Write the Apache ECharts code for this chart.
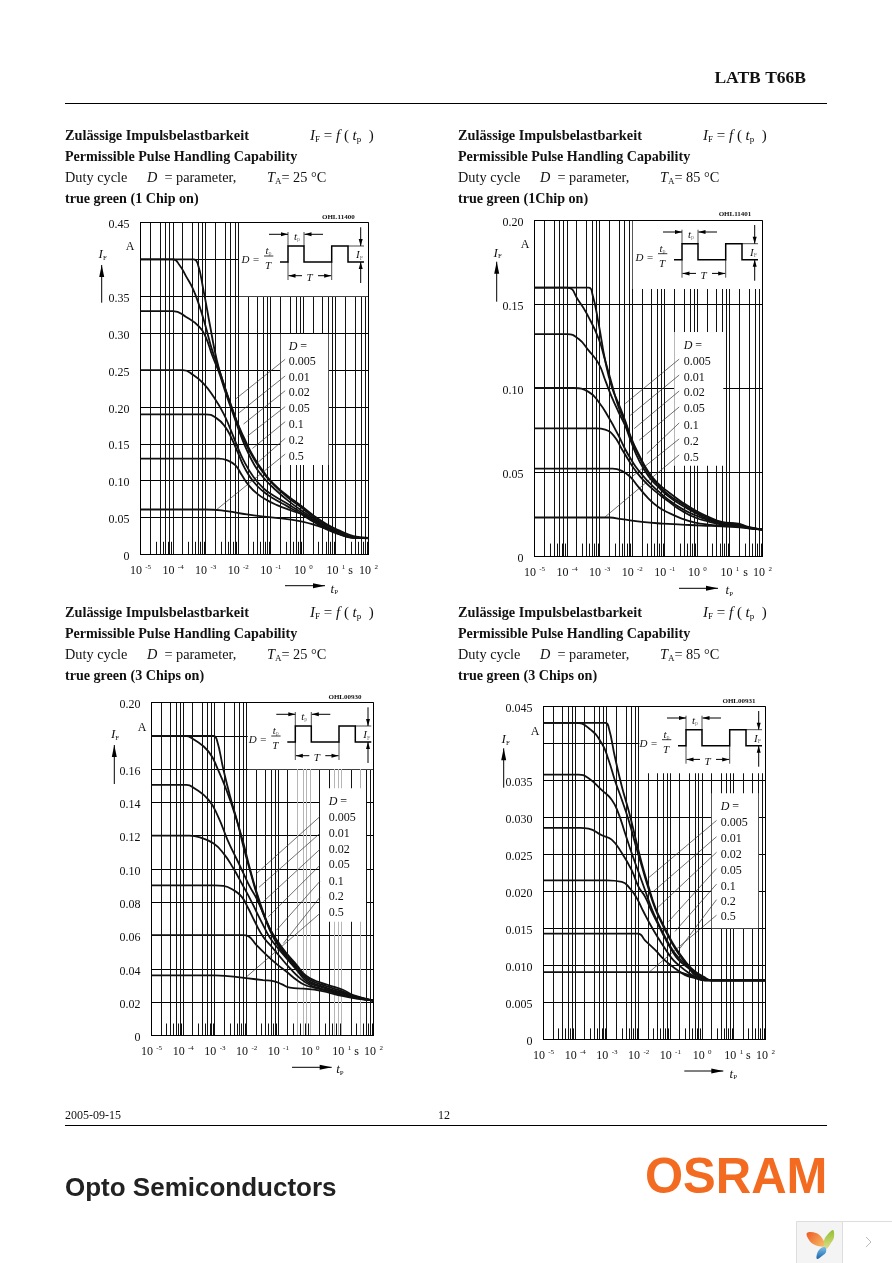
<!DOCTYPE html>
<html><head><meta charset="utf-8">
<style>html,body{margin:0;padding:0;background:#fff}#c{width:892px;height:1263px}</style>
<script src="https://cdn.jsdelivr.net/npm/echarts@6/dist/echarts.min.js"></script>
</head><body><div id="c"></div>
<script>
// Curve values: [log10(tp in s), IF in A]
const dutyLabels=['0.005','0.01','0.02','0.05','0.1','0.2','0.5'];
const longMant=[2,4,6,8,10], shortMant=[3,5,7,9];

const c1d005=[[-5,.4],[-3.37,.4],[-3.25,.395],[-3.07,.359],[-2.86,.309],[-2.66,.264],[-2.45,.232],[-2.25,.205],[-2.04,.18],[-1.84,.16],[-1.53,.1325],[-1.22,.112],[-.92,.096],[-.5,.08],[-.1,.067],[.31,.053],[.72,.041],[1.13,.032],[1.54,.025],[2,.0225]];
const c1d01=[[-5,.4],[-4,.4],[-3.8,.392],[-3.6,.377],[-3.4,.361],[-3.2,.338],[-3,.309],[-2.8,.277],[-2.6,.252],[-2.4,.225],[-2.2,.2],[-2,.175],[-1.8,.153],[-1.5,.128],[-1.2,.109],[-.9,.094],[-.5,.078],[-.1,.065],[.3,.051],[.7,.04],[1.1,.031],[1.5,.024],[2,.0225]];
const c1d02=[[-5,.33],[-4,.33],[-3.6,.322],[-3.2,.309],[-3,.295],[-2.8,.27],[-2.6,.248],[-2.4,.221],[-2.2,.196],[-2,.171],[-1.8,.148],[-1.5,.121],[-1.2,.103],[-.9,.0895],[-.5,.074],[-.1,.061],[.3,.049],[.7,.038],[1.1,.029],[1.5,.023],[2,.0225]];
const c1d05=[[-5,.25],[-3.7,.25],[-3.37,.243],[-3.07,.232],[-2.76,.214],[-2.45,.191],[-2.25,.171],[-2.04,.148],[-1.84,.128],[-1.53,.105],[-1.22,.0895],[-.92,.08],[-.5,.069],[-.1,.058],[.31,.0466],[.72,.0366],[1.13,.0285],[1.54,.023],[2,.0225]];
const c1d1=[[-5,.19],[-3,.19],[-2.66,.1845],[-2.4,.173],[-2.2,.157],[-2,.137],[-1.8,.117],[-1.53,.0986],[-1.22,.085],[-.92,.076],[-.5,.0656],[-.1,.0556],[.31,.0443],[.72,.034],[1.13,.027],[1.54,.0226],[2,.0225]];
const c1d2=[[-5,.13],[-2.6,.13],[-2.35,.128],[-2.09,.121],[-1.89,.1076],[-1.68,.094],[-1.43,.0828],[-1.12,.0737],[-.81,.067],[-.4,.06],[0,.054],[.41,.0434],[.82,.034],[1.23,.026],[1.64,.0226],[2,.0225]];
const c1d5=[[-5,.061],[-3,.061],[-2.35,.0588],[-1.73,.0543],[-1.12,.051],[-.5,.048],[0,.0443],[.41,.039],[.82,.033],[1.23,.026],[1.64,.023],[2,.022]];

const c2d005=[[-5,.16],[-3.34,.16],[-3.22,.156],[-3.03,.1385],[-2.83,.1167],[-2.63,.101],[-2.42,.091],[-2.22,.081],[-2.02,.07],[-1.81,.0612],[-1.5,.0503],[-1.2,.0434],[-.9,.0385],[-.48,.0325],[-.07,.0275],[.34,.0236],[.75,.0206],[1.26,.0196],[1.57,.0176],[2,.016]];
const c2d01=[[-5,.16],[-4,.16],[-3.65,.1524],[-3.34,.1425],[-3.03,.1296],[-2.83,.1167],[-2.63,.103],[-2.42,.089],[-2.22,.08],[-2.02,.069],[-1.81,.0603],[-1.5,.0494],[-1.2,.0424],[-.9,.037],[-.48,.0315],[-.07,.0266],[.34,.023],[.75,.02],[1.26,.0192],[1.57,.0174],[2,.016]];
const c2d02=[[-5,.1324],[-4,.1324],[-3.65,.1296],[-3.34,.1227],[-3.03,.1148],[-2.83,.105],[-2.63,.095],[-2.42,.086],[-2.22,.078],[-2.02,.0676],[-1.81,.058],[-1.5,.0478],[-1.2,.0414],[-.9,.036],[-.48,.0305],[-.07,.026],[.34,.0222],[.75,.02],[1.26,.019],[1.57,.0172],[2,.016]];
const c2d05=[[-5,.1003],[-3.8,.1003],[-3.34,.098],[-3.03,.092],[-2.73,.083],[-2.42,.072],[-2.22,.064],[-2.02,.0573],[-1.81,.0513],[-1.5,.0444],[-1.2,.0389],[-.9,.034],[-.48,.0285],[-.07,.0246],[.34,.0216],[.75,.0196],[1.26,.0186],[1.57,.017],[2,.016]];
const c2d1=[[-5,.0763],[-3.1,.0763],[-2.83,.0755],[-2.57,.072],[-2.32,.064],[-2.11,.0573],[-1.91,.0513],[-1.7,.0464],[-1.45,.0414],[-1.14,.0365],[-.83,.032],[-.48,.0272],[-.07,.0232],[.34,.0208],[.75,.019],[1.26,.0182],[1.57,.0168],[2,.016]];
const c2d2=[[-5,.0523],[-2.6,.0523],[-2.32,.051],[-2.06,.0474],[-1.81,.0414],[-1.5,.0345],[-1.2,.0295],[-.9,.0262],[-.48,.0226],[-.07,.0202],[.34,.019],[.75,.0184],[1.26,.0178],[2,.016]];
const c2d5=[[-5,.0232],[-2.7,.0232],[-2.32,.0222],[-1.7,.0206],[-1.08,.0196],[-.48,.019],[.13,.0184],[.75,.018],[1.36,.0172],[2,.016]];

const c3d005=[[-5,.18],[-3.05,.18],[-2.94,.1776],[-2.73,.1595],[-2.52,.1435],[-2.31,.1295],[-2.1,.1134],[-1.9,.0994],[-1.69,.0854],[-1.48,.0733],[-1.27,.0643],[-1.05,.0573],[-.74,.0493],[-.42,.0423],[-.21,.0373],[0,.0343],[.31,.0319],[.73,.0293],[1.05,.0273],[1.36,.0242],[2,.021]];
const c3d01=[[-5,.18],[-3.95,.18],[-3.65,.1776],[-3.2,.1705],[-2.9,.1595],[-2.6,.1455],[-2.3,.1285],[-2.1,.1154],[-1.9,.1004],[-1.69,.0864],[-1.48,.0743],[-1.27,.0643],[-1.05,.0563],[-.74,.0483],[-.42,.0413],[-.21,.0363],[0,.0333],[.31,.0309],[.73,.0283],[1.05,.0263],[1.36,.0238],[2,.021]];
const c3d02=[[-5,.1505],[-3.9,.1505],[-3.65,.1485],[-3.2,.1415],[-2.9,.1315],[-2.6,.1174],[-2.3,.1054],[-2.1,.0974],[-1.9,.0894],[-1.69,.0824],[-1.48,.0733],[-1.27,.0633],[-1.05,.0553],[-.74,.0473],[-.42,.0403],[-.21,.0353],[0,.0323],[.31,.0299],[.73,.0273],[1.05,.0257],[1.36,.0236],[2,.021]];
const c3d05=[[-5,.12],[-3.8,.12],[-3.47,.119],[-3.05,.1154],[-2.73,.1094],[-2.42,.1004],[-2.1,.0894],[-1.9,.0824],[-1.69,.0743],[-1.48,.0663],[-1.27,.0589],[-1.05,.0533],[-.74,.0463],[-.42,.0393],[-.21,.0343],[0,.0313],[.31,.0293],[.73,.0269],[1.05,.0253],[1.36,.0232],[2,.021]];
const c3d1=[[-5,.0902],[-3,.0902],[-2.73,.0898],[-2.42,.0874],[-2.16,.0834],[-1.95,.0764],[-1.74,.0683],[-1.48,.0593],[-1.21,.0533],[-.95,.0473],[-.63,.0403],[-.31,.0343],[0,.0303],[.31,.0283],[.73,.0263],[1.05,.0246],[1.36,.0228],[2,.021]];
const c3d2=[[-5,.0603],[-2.1,.0603],[-1.95,.0597],[-1.69,.0543],[-1.37,.0483],[-1.05,.0429],[-.74,.0383],[-.42,.0333],[-.16,.0303],[.1,.0289],[.52,.0269],[1.05,.0242],[1.47,.0226],[2,.021]];
const c3d5=[[-5,.0361],[-3,.0361],[-2.6,.0357],[-1.95,.0343],[-1.48,.0333],[-1.16,.0327],[-.9,.0309],[-.63,.0287],[-.21,.0281],[.31,.0269],[1.05,.0236],[1.47,.0222],[2,.021]];

const c4d005=[[-5,.0428],[-3.05,.0428],[-2.94,.0421],[-2.75,.0382],[-2.53,.0342],[-2.32,.031],[-2.11,.0274],[-1.9,.0238],[-1.69,.0207],[-1.48,.0179],[-1.27,.0159],[-1.06,.0141],[-.85,.0125],[-.64,.0112],[-.42,.01],[-.22,.0092],[.04,.0085],[.3,.008],[2,.008]];
const c4d01=[[-5,.0428],[-4,.0428],[-3.58,.0421],[-3.16,.04],[-2.95,.0378],[-2.74,.0349],[-2.53,.0324],[-2.32,.0297],[-2.11,.0265],[-1.9,.0234],[-1.69,.0204],[-1.48,.0177],[-1.27,.0157],[-1.06,.0139],[-.85,.0123],[-.64,.011],[-.42,.0099],[-.22,.009],[.04,.0083],[.3,.008],[2,.008]];
const c4d02=[[-5,.0358],[-3.9,.0358],[-3.58,.0353],[-3.16,.0337],[-2.85,.0324],[-2.64,.0306],[-2.43,.0279],[-2.22,.0252],[-2.01,.0227],[-1.8,.0202],[-1.59,.0177],[-1.38,.0157],[-1.17,.0139],[-.96,.0123],[-.75,.0111],[-.42,.0098],[-.22,.0089],[.04,.0083],[.3,.008],[2,.008]];
const c4d05=[[-5,.0286],[-3.85,.0286],[-3.58,.0285],[-3.16,.0276],[-2.85,.027],[-2.53,.0252],[-2.22,.0229],[-2.01,.0207],[-1.8,.0193],[-1.59,.0173],[-1.38,.0155],[-1.17,.0137],[-.96,.0121],[-.75,.0108],[-.42,.0096],[-.22,.0087],[.04,.0082],[.3,.008],[2,.008]];
const c4d1=[[-5,.0215],[-3,.0215],[-2.53,.0213],[-2.27,.0204],[-2.06,.0191],[-1.85,.0173],[-1.59,.0152],[-1.38,.0137],[-1.17,.0123],[-.96,.011],[-.75,.0101],[-.42,.009],[-.17,.0084],[.09,.008],[2,.008]];
const c4d2=[[-5,.0143],[-2.02,.0143],[-1.8,.0134],[-1.48,.0121],[-1.17,.0107],[-.85,.0096],[-.53,.0087],[-.22,.0083],[.04,.008],[2,.008]];
const c4d5=[[-5,.0091],[-.8,.0091],[-.42,.0087],[-.17,.0083],[.09,.008],[2,.008]];

// Leader lines from the D labels to the curves
const leaderX1=-.558;
const leaderStart1=[.2646,.242,.222,.2004,.18,.1574,.1361];
const leaderEnd1=[[-2.093,.2103],[-1.97,.1922],[-1.837,.1768],[-1.714,.1606],[-1.561,.1438],[-1.428,.1235],[-2.656,.0611]];
const leaderX2=-.558;
const leaderStart2=[.1175,.108,.0985,.089,.0795,.07,.0605];
const leaderEnd2=[[-2.216,.091],[-2.062,.084],[-1.94,.0761],[-1.786,.0692],[-1.55,.0612],[-2.011,.0474],[-2.83,.0236]];
const leaderX3=.31;
const leaderStart3=[.1315,.1214,.1118,.1022,.0926,.083,.0733];
const leaderEnd3=[[-1.684,.0974],[-1.61,.089],[-1.474,.0804],[-1.317,.0713],[-1.055,.0633],[-.845,.0553],[-2,.0353]];
const leaderX4=.456;
const leaderStart4=[.0296,.0274,.0253,.0231,.021,.0189,.0168];
const leaderEnd4=[[-1.674,.0219],[-1.537,.02],[-1.38,.0179],[-1.065,.0159],[-.855,.0146],[-.7,.0123],[-1.642,.0092]];

const SERIF='"Liberation Serif","Times New Roman",serif';
const charts=[
 {x0:65,dy:0,temp:'25',title:'true green (1 Chip on)',code:'OHL11400',L:140.5,R:368.5,T:222.5,B:554.5,yMax:.45,yStep:.05,dec:2,hide:[.4],short:.0172,
  curves:[c1d005,c1d01,c1d02,c1d05,c1d1,c1d2,c1d5],lx:leaderX1,ls:leaderStart1,le:leaderEnd1,
  inset:[239,296.3],legBox:[280.7,334,328.3,465],legX:288.7,legY:[346.7,361.7,377.7,393.3,409.3,425,440.7,456.7],
  IF:[102.7,255],ya:[101.7,302.7,265],A:[130,246.7],tp:[285,325,585.7,334.3,589.3],s:[350.7,570.7],cd:[338.3,217],px:288,py:246},
 {x0:458,dy:0,temp:'85',title:'true green (1Chip on)',code:'OHL11401',L:534.5,R:762.5,T:220.5,B:556.5,yMax:.2,yStep:.05,dec:2,hide:[],short:.0077,
  curves:[c2d005,c2d01,c2d02,c2d05,c2d1,c2d2,c2d5],lx:leaderX2,ls:leaderStart2,le:leaderEnd2,
  inset:[632.7,289],legBox:[674.3,332,723.3,465.7],legX:683.7,legY:[345.5,361.7,377.7,393.3,409.3,425.5,441.5,457.5],
  IF:[497.7,253.3],ya:[496.7,301.7,261.7],A:[525,245],tp:[679,718,588.3,729.3,591],s:[745.7,572.7],cd:[735,214.3],px:682,py:243.7},
 {x0:65,dy:477,temp:'25',title:'true green (3 Chips on)',code:'OHL00930',L:151.5,R:373.5,T:702.5,B:1035.5,yMax:.2,yStep:.02,dec:2,hide:[.18],short:.0072,
  curves:[c3d005,c3d01,c3d02,c3d05,c3d1,c3d2,c3d5],lx:leaderX3,ls:leaderStart3,le:leaderEnd3,
  inset:[247.7,769.3],legBox:[320,788.3,366,921.7],legX:328.7,legY:[801.7,817.7,833.7,849.7,865.3,881.7,897.3,912.7],gray:[.4,.5,.6,.7,.8,.9,1,6,7,8,9,10,40],
  IF:[115,735],ya:[114.3,784,745],A:[142,727.7],tp:[292,331.7,1067.3,340,1070],s:[356.7,1051.7],cd:[345,697],px:295.3,py:726},
 {x0:458,dy:477,temp:'85',title:'true green (3 Chips on)',code:'OHL00931',L:543.5,R:765.5,T:706.5,B:1039.5,yMax:.045,yStep:.005,dec:3,hide:[.04],short:.0015,
  curves:[c4d005,c4d01,c4d02,c4d05,c4d1,c4d2,c4d5],lx:leaderX4,ls:leaderStart4,le:leaderEnd4,
  inset:[639.3,773.3],legBox:[711.7,793.3,758.3,928.3],legX:720.7,legY:[807,822.7,838.7,854.7,870.7,886.7,901.7,917.3],
  IF:[505.7,740],ya:[503.7,787.7,748.3],A:[535,732],tp:[684.3,723.3,1071,733.3,1074.3],s:[748.3,1055.7],cd:[739,701],px:686,py:729.7}
];

const grids=[],xAxes=[],yAxes=[],series=[],graphic=[];
const T=(x,y,text,o={})=>({type:'text',x,y,z:6,silent:true,style:Object.assign({text,fontFamily:SERIF,fontSize:12,fill:'#111',align:'left',verticalAlign:'middle'},o)});
const LN=(x1,y1,x2,y2,w=1,c='#000',z=6)=>({type:'line',z,silent:true,shape:{x1,y1,x2,y2},style:{stroke:c,lineWidth:w}});
const ARROW=(x1,y1,x2,y2,len=7,hw=2)=>{
  const d=Math.hypot(x2-x1,y2-y1),ux=(x2-x1)/d,uy=(y2-y1)/d;
  return [LN(x1,y1,x2,y2,1),{type:'polygon',z:6,silent:true,shape:{points:[[x2,y2],[x2-ux*len-uy*hw,y2-uy*len+ux*hw],[x2-ux*len+uy*hw,y2-uy*len-ux*hw]]},style:{fill:'#000'}}];
};
const subRich={i:{fontStyle:'italic',fontFamily:SERIF,fontSize:15,fill:'#111'},n:{fontFamily:SERIF,fontSize:15,fill:'#111'},s:{fontFamily:SERIF,fontSize:9,fill:'#111',padding:[7,0,0,0]},m:{fontFamily:SERIF,fontSize:14.3,fill:'#111'},mi:{fontStyle:'italic',fontFamily:SERIF,fontSize:14.3,fill:'#111'}};

charts.forEach((c,i)=>{
  grids.push({left:c.L,top:c.T,width:c.R-c.L,height:c.B-c.T,show:false});
  xAxes.push({gridIndex:i,type:'log',logBase:10,min:1e-5,max:100,splitNumber:7,axisTick:{show:false},splitLine:{show:false},minorTick:{show:false},
    axisLine:{show:true,onZero:false,lineStyle:{color:'#000',width:1}},
    axisLabel:{margin:9,hideOverlap:false,showMinLabel:true,showMaxLabel:true,formatter:v=>`{a|10} {b|${Math.round(Math.log10(v))}}`,
      rich:{a:{fontFamily:SERIF,fontSize:12,color:'#111'},b:{fontFamily:SERIF,fontSize:7,color:'#111',padding:[0,0,7,0]}}}});
  yAxes.push({gridIndex:i,type:'value',min:0,max:c.yMax,interval:c.yStep,axisTick:{show:false},
    axisLine:{show:true,onZero:false,lineStyle:{color:'#000',width:1}},
    splitLine:{show:true,lineStyle:{color:'#000',width:1}},
    axisLabel:{margin:11,color:'#111',fontFamily:SERIF,fontSize:12,verticalAlign:'top',lineHeight:5,
      formatter:v=>{ if(v===0)return '0'; if(c.hide.some(h=>Math.abs(h-v)<1e-6))return ''; return v.toFixed(c.dec);} }});
  // vertical grid lines and short ticks
  const vl=[];
  for(let e=-5;e<2;e++){
    longMant.forEach(m=>{const t=m*Math.pow(10,e);vl.push([t,c.yMax,(c.gray||[]).some(g=>Math.abs(g/t-1)<1e-6)?1:0]);});
    shortMant.forEach(m=>vl.push([m*Math.pow(10,e),c.short,0]));
  }
  series.push({type:'custom',xAxisIndex:i,yAxisIndex:i,z:0,silent:true,clip:true,animation:false,data:vl,encode:{x:0,y:1},
    renderItem:(p,api)=>{const a=api.coord([api.value(0),0]),b=api.coord([api.value(0),api.value(1)]),x=Math.floor(a[0])+.5;
      return {type:'line',shape:{x1:x,y1:a[1],x2:x,y2:b[1]},style:{stroke:api.value(2)?'#b5b5b5':'#111',lineWidth:1}};}});
  // curves
  c.curves.forEach((pts,k)=>series.push({type:'line',name:'D='+dutyLabels[k],xAxisIndex:i,yAxisIndex:i,z:3,symbol:'none',silent:true,animation:false,smooth:.5,
    lineStyle:{color:'#111',width:1.8},data:pts.map(p=>[Math.pow(10,p[0]),p[1]])}));
  // leaders
  c.le.forEach((e,k)=>series.push({type:'line',name:'leader'+dutyLabels[k],xAxisIndex:i,yAxisIndex:i,z:2,symbol:'none',silent:true,animation:false,
    lineStyle:{color:'#333',width:.7},data:[[Math.pow(10,c.lx),c.ls[k]],[Math.pow(10,e[0]),e[1]]]}));

  // white areas, frame
  graphic.push({type:'rect',z:1,silent:true,shape:{x:c.inset[0],y:c.T,width:c.R-c.inset[0],height:c.inset[1]-c.T},style:{fill:'#fff'}});
  graphic.push({type:'rect',z:1,silent:true,shape:{x:c.legBox[0],y:c.legBox[1],width:c.legBox[2]-c.legBox[0],height:c.legBox[3]-c.legBox[1]},style:{fill:'#fff'}});
  graphic.push({type:'rect',z:2,silent:true,shape:{x:c.L,y:c.T,width:c.R-c.L,height:c.B-c.T},style:{fill:null,stroke:'#000',lineWidth:1}});
  // header
  const y0=136+c.dy;
  graphic.push(T(c.x0,y0,'Zulässige Impulsbelastbarkeit',{fontWeight:'bold',fontSize:14.3}));
  graphic.push(T(c.x0,y0+21,'Permissible Pulse Handling Capability',{fontWeight:'bold',fontSize:14.1}));
  graphic.push(T(c.x0,y0+42,'Duty cycle',{fontSize:14.3}));
  graphic.push(T(c.x0,y0+63,c.title,{fontWeight:'bold',fontSize:14.1}));
  graphic.push(T(c.x0+245,y0,'{i|I}{s|F}{n| = }{i|f}{n| ( }{i|t}{s|p}{n|  )}',{rich:subRich}));
  graphic.push(T(c.x0+82,y0+42,'{mi|D}{m|  = parameter,}',{rich:subRich}));
  graphic.push(T(c.x0+202,y0+42,'{mi|T}{s|A}{m|= '+c.temp+' °C}',{rich:subRich}));
  graphic.push(T(c.cd[0],c.cd[1],c.code,{fontSize:7,fontWeight:'bold',align:'center'}));
  // axis annotations
  graphic.push(T(c.IF[0],c.IF[1],'{i|I}{s|F}',{rich:{i:{fontStyle:'italic',fontFamily:SERIF,fontSize:13,fill:'#111'},s:{fontFamily:SERIF,fontSize:7,fill:'#111',padding:[6,0,0,0]}},align:'center'}));
  graphic.push(...ARROW(c.ya[0],c.ya[1],c.ya[0],c.ya[2],12,2.5));
  graphic.push(T(c.A[0],c.A[1],'A',{align:'center'}));
  graphic.push(...ARROW(c.tp[0],c.tp[2],c.tp[1],c.tp[2],12,2.5));
  graphic.push(T(c.tp[3],c.tp[4],'{i|t}{s|P}',{rich:{i:{fontStyle:'italic',fontFamily:SERIF,fontSize:13,fill:'#111'},s:{fontFamily:SERIF,fontSize:7,fill:'#111',padding:[6,0,0,0]}},align:'center'}));
  graphic.push(T(c.s[0],c.s[1],'s',{align:'center'}));
  // legend labels
  graphic.push(T(c.legX,c.legY[0],'{i|D} {n|=}',{rich:{i:{fontStyle:'italic',fontFamily:SERIF,fontSize:12,fill:'#111'},n:{fontFamily:SERIF,fontSize:12,fill:'#111'}}}));
  dutyLabels.forEach((d,k)=>graphic.push(T(c.legX,c.legY[k+1],d)));
  // pulse inset
  const px=c.px,py=c.py,rel=(a,b)=>[px+a,py+b];
  graphic.push({type:'polyline',z:6,silent:true,shape:{points:[[-8,16],[0,16],[0,0],[16,0],[16,16],[43.7,16],[43.7,0],[60,0],[60,16],[76,16]].map(p=>rel(p[0],p[1]))},style:{stroke:'#000',lineWidth:1.5,fill:null}});
  graphic.push(LN(px+60,py,px+76,py,.7),LN(px,py,px,py-14,.7),LN(px+16,py,px+16,py-14,.7),LN(px,py+16,px,py+34,.7),LN(px+43.7,py+16,px+43.7,py+34,.7));
  graphic.push(...ARROW(px-19,py-11.7,px,py-11.7,7,2),...ARROW(px+35,py-11.7,px+16.5,py-11.7,7,2));
  graphic.push(...ARROW(px+72.7,py-18.7,px+72.7,py,7,2),...ARROW(px+72.7,py+37,px+72.7,py+16,7,2));
  graphic.push(...ARROW(px+14,py+29.7,px+.5,py+29.7,7,2),...ARROW(px+30,py+29.7,px+43.2,py+29.7,7,2));
  const ir={i:{fontStyle:'italic',fontFamily:SERIF,fontSize:11,fill:'#111'},s:{fontFamily:SERIF,fontSize:6,fill:'#777',padding:[5,0,0,0]}};
  graphic.push(T(px+6,py-9,'{i|t}{s|p}',{rich:ir}));
  graphic.push(T(px+21.5,py+32,'T',{fontStyle:'italic',fontSize:11,align:'center'}));
  graphic.push(T(px+68,py+9.5,'{i|I}{s|F}',{rich:ir}));
  graphic.push(T(px-37.5,py+14,'D =',{fontStyle:'italic',fontSize:11,align:'center'}));
  graphic.push(T(px-19.5,py+5,'{i|t}{s|p}',{rich:ir,align:'center'}));
  graphic.push(LN(px-24,py+10,px-14.7,py+10,.8));
  graphic.push(T(px-20,py+20.5,'T',{fontStyle:'italic',fontSize:11,align:'center'}));
});

// page furniture
graphic.push(T(806,78.5,'LATB T66B',{fontWeight:'bold',fontSize:17.5,align:'right'}));
graphic.push(LN(65,103.5,827,103.5,1));
graphic.push(T(65,1116,'2005-09-15',{fontSize:12}));
graphic.push(T(444,1116,'12',{fontSize:12,align:'center'}));
graphic.push(LN(65,1125.5,827,1125.5,1));
graphic.push(T(65,1189,'Opto Semiconductors',{fontFamily:'"Liberation Sans",Arial,sans-serif',fontWeight:'bold',fontSize:26,fill:'#222'}));
graphic.push({type:'text',x:645,y:1179,scaleX:.98,z:6,silent:true,style:{text:'OSRAM',fontFamily:'"Liberation Sans",Arial,sans-serif',fontWeight:'bold',fontSize:50,fill:'#f26b21',verticalAlign:'middle'}});
// corner widget
graphic.push({type:'rect',z:6,silent:true,shape:{x:796.5,y:1221.5,width:46,height:45},style:{fill:'#f4f4f4',stroke:'#ddd',lineWidth:1}});
graphic.push({type:'rect',z:6,silent:true,shape:{x:842.5,y:1221.5,width:54,height:45},style:{fill:'#fff',stroke:'#ddd',lineWidth:1}});
graphic.push({type:'polyline',z:7,silent:true,shape:{points:[[866,1237],[871,1242],[866,1247]]},style:{stroke:'#bbb',lineWidth:1,fill:null}});
graphic.push({type:'polygon',z:7,silent:true,shape:{smooth:.4,points:[[807,1233],[816,1233],[822,1238],[825,1246],[815,1245],[809,1240]]},style:{fill:{type:'linear',x:0,y:0,x2:1,y2:1,colorStops:[{offset:0,color:'#ee5a24'},{offset:1,color:'#f6c36b'}]}}});
graphic.push({type:'polygon',z:7,silent:true,shape:{smooth:.4,points:[[833,1230],[834,1237],[831,1243],[826,1249],[824,1241],[828,1234]]},style:{fill:{type:'linear',x:0,y:0,x2:0,y2:1,colorStops:[{offset:0,color:'#8fc031'},{offset:1,color:'#e0dd8a'}]}}});
graphic.push({type:'polygon',z:7,silent:true,shape:{smooth:.4,points:[[825,1247],[826,1252],[822,1256],[817,1259],[817,1254],[820,1249]]},style:{fill:{type:'linear',x:0,y:0,x2:0,y2:1,colorStops:[{offset:0,color:'#7fc0ea'},{offset:1,color:'#1766ab'}]}}});

const chart=echarts.init(document.getElementById('c'),null,{renderer:'canvas',width:892,height:1263});
chart.setOption({animation:false,backgroundColor:'#fff',grid:grids,xAxis:xAxes,yAxis:yAxes,series,graphic:{elements:graphic}});
</script></body></html>
